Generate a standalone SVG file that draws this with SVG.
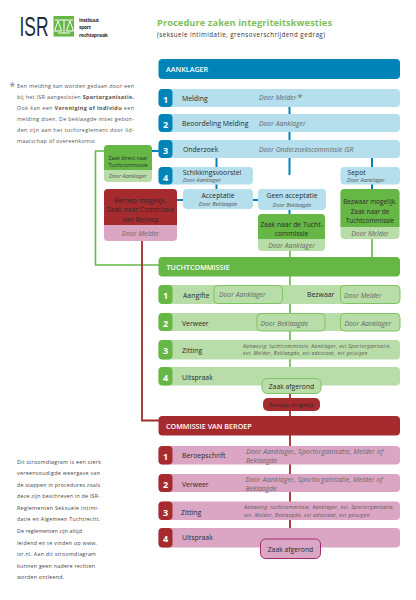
<svg xmlns="http://www.w3.org/2000/svg" width="416" height="600" viewBox="0 0 416 600">
<style>
text{font-family:"Open Sans","Liberation Sans",sans-serif;fill:#2b2b2b}
.h{font-size:7.2px;font-weight:600;fill:#fff}
.n{font-size:9px;font-weight:700;fill:#fff;text-anchor:middle}
.l{font-size:6.9px}
.c{font-size:6.8px;text-anchor:middle}
.i{font-size:6.8px;font-style:italic;fill:#666}
.s{font-size:5.5px;font-style:italic;fill:#555}
.b{font-size:5.4px;fill:#555}
.f{font-size:5.3px;fill:#444}
.a{text-anchor:middle}
.blue{fill:#0084b8}.lb{fill:#b5dfec}.gr{fill:#66b745}.lg{fill:#b9dda8}.red{fill:#a62b2f}.pk{fill:#dba6c4}
.ol{fill:#b9dda8;stroke:#7fc463;stroke-width:1}
.cb{stroke:#0084b8;stroke-width:2;fill:none}.cg{stroke:#66b745;stroke-width:1.6;fill:none}.cr{stroke:#a62b2f;stroke-width:1.8;fill:none}
</style>
<rect width="416" height="600" fill="#fff"/>
<g id="connectors">
<path class="cb" d="M289.500 100V175M216.500 155V190M372 155V195M152 151H160M177 200H185M253 200H260M289.500 205V216"/>
<path class="cg" d="M290 248V285M372 238V258M104 151H95.500V265H160M290 276V380"/>
<path class="cr" d="M142 240V420.500H160M290 392V420M290 435V530"/>
</g>
<g id="logo">
<text x="19.500" y="36" style="font-family:'Liberation Sans',sans-serif;font-size:27px;fill:#1f2d3d" textLength="29" lengthAdjust="spacingAndGlyphs">ISR</text>
<rect x="53.500" y="16" width="20.500" height="20.500" class="gr"/>
<path d="M55 20H73M64 20V33M58 33H70M58 21L54.500 31H61.500ZM70 21L66.500 31H73.500Z" stroke="#fff" stroke-width="1" fill="none"/>
<text x="79" y="21.500" style="font-size:5.2px;font-weight:700;fill:#333" textLength="20">instituut</text>
<text x="79" y="29" style="font-size:5.2px;font-weight:700;fill:#333" textLength="12">sport</text>
<text x="79" y="36.500" style="font-size:5.2px;font-weight:700;fill:#333" textLength="29">rechtspraak</text>
</g>
<g id="title">
<text x="157" y="25.500" style="font-size:9.300px;font-weight:700;fill:#7fbf5a" textLength="175">Procedure zaken integriteitskwesties</text>
<text x="157" y="36.500" style="font-size:6.200px;fill:#333" textLength="168">(seksuele intimidatie, grensoverschrijdend gedrag)</text>
</g>
<g id="note-top">
<text x="9.500" y="90" style="font-size:10px;fill:#777">*</text>
<text class="b" x="17" y="87.500" textLength="117">Een melding kan worden gedaan door een</text>
<text class="b" x="17" y="98.500" textLength="117">bij het ISR aangesloten <tspan font-weight="700">Sportorganisatie.</tspan></text>
<text class="b" x="17" y="109.500" textLength="117">Ook kan een <tspan font-weight="700">Vereniging of Individu</tspan> een</text>
<text class="b" x="17" y="120.500" textLength="117">melding doen. De beklaagde moet gebon-</text>
<text class="b" x="17" y="131.500" textLength="117">den zijn aan het tuchtreglement door lid-</text>
<text class="b" x="17" y="142.500" textLength="78">maatschap of overeenkomst</text>
</g>
<g id="note-bottom">
<text class="f" x="17" y="463.500" textLength="84">Dit stroomdiagram is een sterk</text>
<text class="f" x="17" y="475" textLength="83">vereenvoudigde weergave van</text>
<text class="f" x="17" y="486.500" textLength="83">de stappen in procedures zoals</text>
<text class="f" x="17" y="498" textLength="83">deze zijn beschreven in de ISR-</text>
<text class="f" x="17" y="509.500" textLength="82">Reglementen Seksuele Intimi-</text>
<text class="f" x="17" y="521" textLength="83">datie en Algemeen Tuchtrecht.</text>
<text class="f" x="17" y="532.500" textLength="65">De reglementen zijn altijd</text>
<text class="f" x="17" y="544.500" textLength="80">leidend en te vinden op www.</text>
<text class="f" x="17" y="556" textLength="79">isr.nl. Aan dit stroomdiagram</text>
<text class="f" x="17" y="567.500" textLength="78">kunnen geen nadere rechten</text>
<text class="f" x="17" y="579" textLength="47">worden ontleend.</text>
</g>
<g id="aanklager"><rect class="blue" x="158.500" y="59" width="241.500" height="20" rx="4"/><text class="h" x="166" y="72">AANKLAGER</text></g>
<g id="a1"><rect class="lb" x="158.500" y="89" width="241.500" height="18" rx="4"/><rect class="blue" x="158.500" y="89" width="14" height="18" rx="4"/><text class="n" x="165.500" y="102.500">1</text><text class="l" x="182" y="100.500">Melding</text><text class="i" x="259" y="100">Door Melder</text><text x="297.500" y="101" style="font-size:9px;fill:#666">*</text></g>
<g id="a2"><rect class="lb" x="158.500" y="114" width="241.500" height="18" rx="4"/><rect class="blue" x="158.500" y="114" width="14" height="18" rx="4"/><text class="n" x="165.500" y="127.500">2</text><text class="l" x="182" y="125.500">Beoordeling Melding</text><text class="i" x="259" y="126">Door Aanklager</text></g>
<g id="a3"><rect class="lb" x="158.500" y="140" width="241.500" height="18" rx="4"/><rect class="blue" x="158.500" y="140" width="14" height="18" rx="4"/><text class="n" x="165.500" y="154">3</text><text class="l" x="183" y="151.500">Onderzoek</text><text class="i" x="259" y="152">Door Onderzoekscommissie ISR</text></g>
<g id="a4"><rect class="lb" x="158.500" y="167" width="94.500" height="17.500" rx="4"/><rect class="blue" x="158.500" y="167" width="14" height="17.500" rx="4"/><text class="n" x="165.500" y="181">4</text><text class="c" x="212" y="174.500">Schikkingsvoorstel</text><text class="s a" x="202" y="182">Door Aanklager</text></g>
<g id="sepot"><rect class="lb" x="340.500" y="167" width="59.500" height="17.500" rx="4"/><text class="c" x="347.500" y="174.500" style="text-anchor:start">Sepot</text><text class="s" x="347" y="182">Door Aanklager</text></g>
<g id="direct"><rect class="lg" x="104" y="145" width="48" height="37" rx="4"/><path class="gr" d="M108 145H148a4 4 0 0 1 4 4V170H104V149a4 4 0 0 1 4-4Z"/><text x="128" y="160" style="font-size:5.200px;text-anchor:middle">Zaak direct naar</text><text x="128" y="167" style="font-size:5.200px;text-anchor:middle">Tuchtcommissie</text><text class="s a" x="128" y="178">Door Aanklager</text></g>
<g id="beroep"><rect class="pk" x="104" y="189" width="73" height="52" rx="4"/><path class="red" d="M108 189H173a4 4 0 0 1 4 4V225H104V193a4 4 0 0 1 4-4Z"/><text class="c" x="140.500" y="202.500">Beroep mogelijk.</text><text class="c" x="140.500" y="212">Zaak naar Commissie</text><text class="c" x="140.500" y="221.500">van Beroep</text><text class="i a" x="140.500" y="235.500">Door Melder</text></g>
<g id="acceptatie"><rect class="lb" x="183" y="189" width="70" height="20" rx="4"/><text class="c" x="218" y="197.500">Acceptatie</text><text class="s a" x="218" y="206">Door Beklaagde</text></g>
<g id="geen"><rect class="lb" x="258" y="189" width="68" height="21" rx="4"/><text class="c" x="292" y="198">Geen acceptatie</text><text class="s a" x="292" y="206.500">Door Beklaagde</text></g>
<g id="zaak-tucht"><rect class="lg" x="258" y="214" width="67" height="37" rx="4"/><path class="gr" d="M262 214H321a4 4 0 0 1 4 4V239H258V218a4 4 0 0 1 4-4Z"/><text class="c" x="291.500" y="226.500">Zaak naar de Tucht-</text><text class="c" x="291.500" y="235.500">commissie</text><text class="i a" x="291.500" y="247.500">Door Aanklager</text></g>
<g id="bezwaar"><rect class="lg" x="340.500" y="189" width="59" height="50" rx="4"/><path class="gr" d="M344.500 189H395.500a4 4 0 0 1 4 4V227H340.500V193a4 4 0 0 1 4-4Z"/><text class="c" x="370" y="204" style="font-size:6.400px">Bezwaar mogelijk.</text><text class="c" x="370" y="213.500" style="font-size:6.400px">Zaak naar de</text><text class="c" x="370" y="222.500" style="font-size:6.400px">Tuchtcommissie</text><text class="i a" x="370" y="235.500">Door Melder</text></g>
<g id="tucht"><rect class="gr" x="158.500" y="257" width="241.500" height="19.500" rx="4"/><text class="h" x="166.500" y="269.500">TUCHTCOMMISSIE</text></g>
<g id="t1"><rect class="lg" x="158.500" y="285" width="241.500" height="19" rx="4"/><rect class="gr" x="158.500" y="285" width="14" height="19" rx="4"/><text class="n" x="165.500" y="299">1</text><text class="l" x="183" y="298">Aangifte</text><rect class="ol" x="214" y="285.500" width="68.500" height="18" rx="4"/><text class="i" x="219" y="297">Door Aanklager</text><text class="l" x="307" y="297">Bezwaar</text><rect class="ol" x="340.500" y="285.500" width="59.500" height="18" rx="4"/><text class="i" x="344" y="297.500">Door Melder</text></g>
<g id="t2"><rect class="lg" x="158.500" y="313" width="241.500" height="18" rx="4"/><rect class="gr" x="158.500" y="313" width="14" height="18" rx="4"/><text class="n" x="165.500" y="326.500">2</text><text class="l" x="182" y="325.500">Verweer</text><rect class="ol" x="257" y="313.500" width="68" height="17.500" rx="4"/><text class="i" x="260.500" y="325.500">Door Beklaagde</text><rect class="ol" x="340.500" y="313.500" width="59.500" height="17.500" rx="4"/><text class="i" x="344.500" y="325.500">Door Aanklager</text></g>
<g id="t3"><rect class="lg" x="158.500" y="340" width="241.500" height="19.500" rx="4"/><rect class="gr" x="158.500" y="340" width="14" height="19.500" rx="4"/><text class="n" x="165.500" y="354">3</text><text class="l" x="182" y="353">Zitting</text><text class="s" x="243" y="347.500" textLength="148" style="font-size:4.900px">Aanwezig: tuchtcommissie, Aanklager, evt.Sportorganisatie,</text><text class="s" x="243" y="355" textLength="126" style="font-size:4.900px">evt. Melder, Beklaagde, evt advocaat, evt getuigen.</text></g>
<g id="t4"><rect class="lg" x="158.500" y="367" width="241.500" height="18.500" rx="4"/><rect class="gr" x="158.500" y="367" width="14" height="18.500" rx="4"/><text class="n" x="165.500" y="381">4</text><text class="l" x="182" y="379.500">Uitspraak</text></g>
<g id="afgerond1"><rect class="ol" x="262" y="378.500" width="59" height="15" rx="5" stroke="#66b745"/><text class="c" x="291.500" y="388.500">Zaak afgerond</text></g>
<g id="beroep-mogelijk"><rect class="red" x="263" y="398" width="57" height="13" rx="5"/><text x="291.500" y="406.800" style="font-size:6px;text-anchor:middle">Beroep mogelijk</text></g>
<g id="commissie"><rect class="red" x="158.500" y="416" width="241.500" height="19.500" rx="4"/><text class="h" x="166" y="428.500">COMMISSIE VAN BEROEP</text></g>
<g id="b1"><rect class="pk" x="158.500" y="446" width="241.500" height="18.500" rx="4"/><rect class="red" x="158.500" y="446" width="14" height="18.500" rx="4"/><text class="n" x="165.500" y="460">1</text><text class="l" x="182" y="458">Beroepschrift</text><text class="i" x="246" y="454" textLength="137">Door Aanklager, Sportorganisatie, Melder of</text><text class="i" x="246" y="463">Beklaagde</text></g>
<g id="b2"><rect class="pk" x="158.500" y="474" width="241.500" height="18" rx="4"/><rect class="red" x="158.500" y="474" width="14" height="18" rx="4"/><text class="n" x="165.500" y="487.500">2</text><text class="l" x="182" y="487">Verweer</text><text class="i" x="245.500" y="481.500" textLength="137">Door Aanklager, Sportorganisatie, Melder of</text><text class="i" x="245.500" y="490.500">Beklaagde</text></g>
<g id="b3"><rect class="pk" x="158.500" y="501.500" width="241.500" height="18.500" rx="4"/><rect class="red" x="158.500" y="501.500" width="14" height="18.500" rx="4"/><text class="n" x="165.500" y="516">3</text><text class="l" x="181" y="514.500">Zitting</text><text class="s" x="244" y="509" textLength="150" style="font-size:4.900px">Aanwezig: tuchtcommissie, Aanklager, evt. Sportorganisatie,</text><text class="s" x="244" y="516.500" textLength="127" style="font-size:4.900px">evt. Melder, Beklaagde, evt advocaat, evt getuigen.</text></g>
<g id="b4"><rect class="pk" x="158.500" y="528" width="241.500" height="19.500" rx="4"/><rect class="red" x="158.500" y="528" width="14" height="19.500" rx="4"/><text class="n" x="165.500" y="542">4</text><text class="l" x="182" y="539.500">Uitspraak</text></g>
<g id="afgerond2"><rect x="260.500" y="539" width="60" height="19.500" rx="5" fill="#dba6c4" stroke="#a02a70" stroke-width="1"/><text class="c" x="290.500" y="551.500">Zaak afgerond</text></g>
</svg>
